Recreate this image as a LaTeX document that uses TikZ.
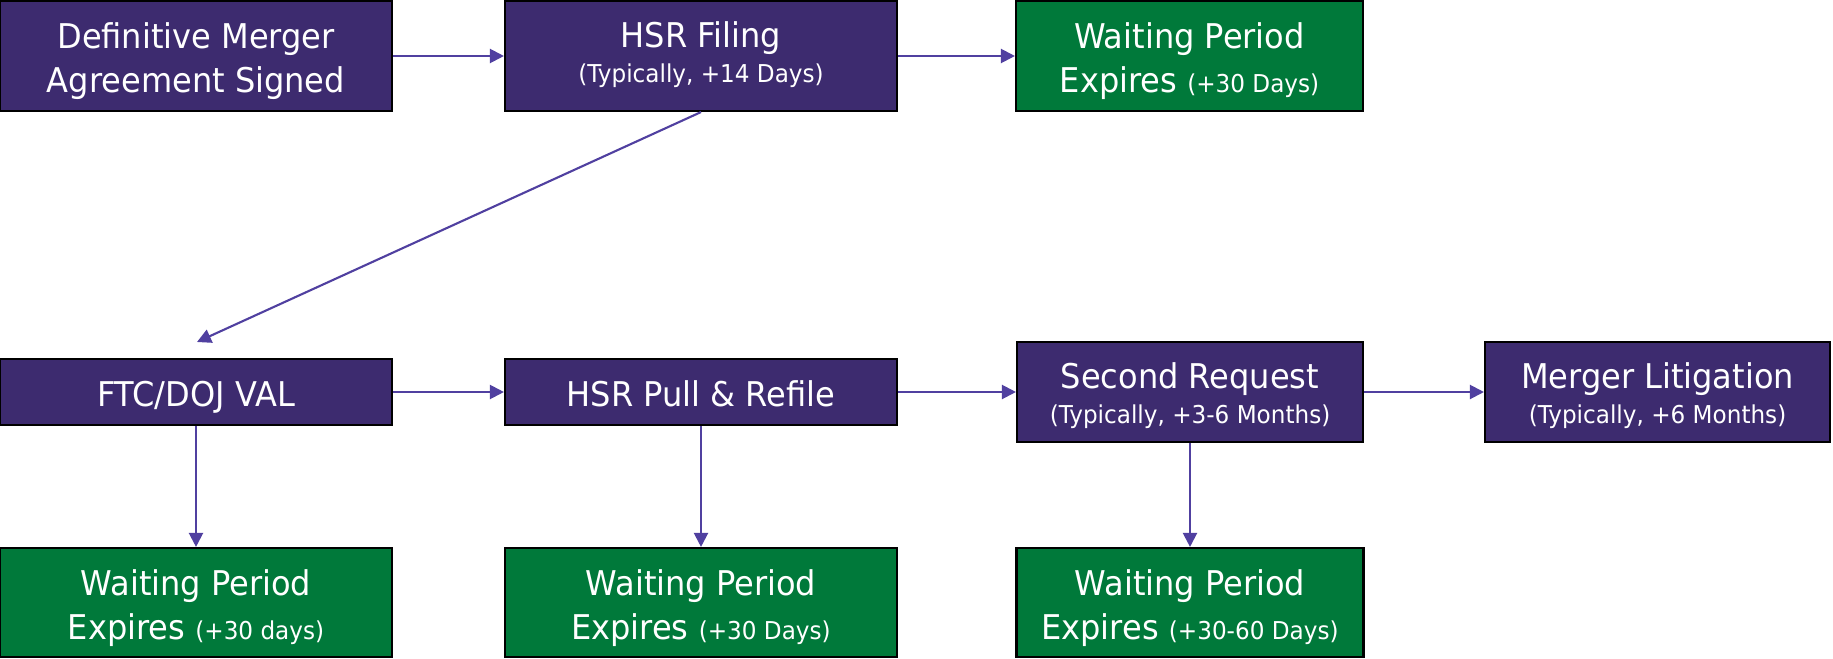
\documentclass[tikz,border=0pt]{standalone}
\usepackage{fontspec}
\setmainfont{DejaVu Sans}[FakeStretch=0.94]
\usepackage{xcolor}
\usepackage{tikz}
\usetikzlibrary{arrows.meta}
\definecolor{stage}{HTML}{3D2B6F}
\definecolor{clear}{HTML}{00793A}
\definecolor{flow}{HTML}{5040A0}
\newcommand{\sub}[1]{{\fontsize{7}{8.5}\selectfont #1}}

\begin{document}
\begin{tikzpicture}[
    stagebox/.style={draw=black, line width=0.6pt, fill=stage, text=white, align=center,
                     inner sep=0pt, minimum width=3.92cm, font=\fontsize{9.7}{12.5}\selectfont,
                     execute at begin node={\rule{0pt}{11pt}},
                     execute at end node={\rule[-3pt]{0pt}{0pt}}},
    donebox/.style={stagebox, fill=clear},
    textdrop/.style={execute at begin node={\rule{0pt}{#1}}},
    arrow/.style={-{Triangle[length=0.14cm, width=0.14cm]}, draw=flow, fill=flow, line width=0.6pt}
  ]
    \useasboundingbox (0,0) rectangle (18.33,-6.58);

    % top row
    \node[stagebox, minimum height=1.10cm, textdrop=23.5pt] (signed) at (1.96,-0.56) {Definitive Merger\\Agreement Signed};
    \node[stagebox, minimum height=1.10cm, textdrop=17.8pt] (filing) at (7.01,-0.56) {HSR Filing\\[-2.6pt]\sub{(Typically, +14 Days)}};
    \node[donebox, minimum height=1.10cm, minimum width=3.47cm, textdrop=23.5pt] (expA) at (11.895,-0.56) {Waiting Period\\Expires \sub{(+30 Days)}};

    % middle row
    \node[stagebox, minimum height=0.66cm] (val) at (1.96,-3.92) {FTC/DOJ VAL};
    \node[stagebox, minimum height=0.66cm] (refile) at (7.01,-3.92) {HSR Pull \& Refile};
    \node[stagebox, minimum height=1.00cm, minimum width=3.46cm, textdrop=20.9pt] (second) at (11.90,-3.92) {Second Request\\[-2.6pt]\sub{(Typically, +3-6 Months)}};
    \node[stagebox, minimum height=1.00cm, minimum width=3.45cm, textdrop=20.9pt] (litig) at (16.575,-3.92) {Merger Litigation\\[-2.6pt]\sub{(Typically, +6 Months)}};
    \coordinate (valtip) at (1.97,-3.42);

    % bottom row
    \node[donebox, minimum height=1.09cm, textdrop=24pt] (expB) at (1.96,-6.025) {Waiting Period\\Expires \sub{(+30 days)}};
    \node[donebox, minimum height=1.09cm, textdrop=24pt] (expC) at (7.01,-6.025) {Waiting Period\\Expires \sub{(+30 Days)}};
    \node[donebox, minimum height=1.09cm, minimum width=3.47cm, textdrop=24pt] (expD) at (11.90,-6.025) {Waiting Period\\Expires \sub{(+30-60 Days)}};

    \draw[arrow] (signed) -- (filing);
    \draw[arrow] (filing) -- (expA);
    \draw[arrow] (filing.south) -- (valtip);
    \draw[arrow] (val) -- (refile);
    \draw[arrow] (refile) -- (second);
    \draw[arrow] (second) -- (litig);
    \draw[arrow] (val) -- (expB);
    \draw[arrow] (refile) -- (expC);
    \draw[arrow] (second) -- (expD);
  \end{tikzpicture}
\end{document}
